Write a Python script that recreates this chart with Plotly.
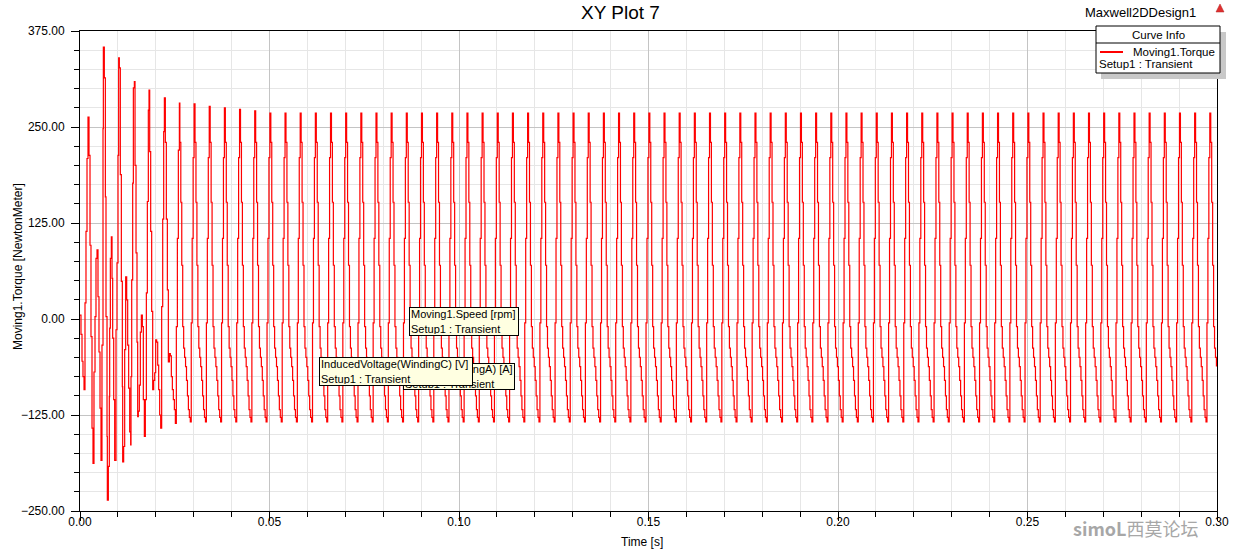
import plotly.graph_objects as go

# ---------------- data ----------------
# start-up transient (time in ms, torque in N.m)
transient_t_ms = [0.00, 0.26, 0.53, 0.79, 1.06, 1.32, 1.58, 1.85, 2.11, 2.38, 2.64, 2.90,
                  3.17, 3.43, 3.69, 3.96, 4.22, 4.49, 4.75, 5.01, 5.28, 5.54, 5.80, 6.07,
                  6.16, 6.42, 6.69, 6.86, 7.13, 7.21, 7.48, 7.74, 7.83, 8.01, 8.27, 8.45,
                  8.62, 8.89, 9.15, 9.50, 9.76, 10.03, 10.20, 10.38, 10.64, 10.91, 11.17,
                  11.26, 11.52, 11.79, 12.05, 12.32, 12.58, 12.84, 13.11, 13.37, 13.46,
                  13.64, 13.90, 14.08, 14.34, 14.52, 14.78, 15.04, 15.22, 15.39, 15.66,
                  15.92, 16.19, 16.45, 16.71, 16.98, 17.24, 17.51, 17.77, 18.03, 18.21,
                  18.39, 18.65, 18.91, 19.18, 19.44, 19.71, 19.97, 20.23, 20.50, 20.76,
                  21.02, 21.29, 21.55, 21.82, 22.08, 22.26, 22.52, 22.78, 23.05, 23.31,
                  23.58, 23.84, 24.10, 24.37, 24.63, 24.90, 25.16, 25.42, 25.69, 25.95,
                  26.22]
transient_torque = [5, -20, -55, -75, -92, 21, 114, 209, 263, 213, 96, -23,
                    -142, -188, -69, 3, 79, 90, 29, -43, -116, -184, -34, 248,
                    354, 314, 159, 3, -153, -236, -192, -101, -12, 79, 107, 53,
                    -25, -105, -184, -14, 73, 213, 340, 327, 188, 49, -88,
                    -186, -166, -40, 55, 25, -34, -90, -147, -164, -75,
                    51, 177, 301, 309, 200, 86, -30, -127, -120, -86,
                    -17, 5, -10, -105, -153, -105, 34, 153, 272, 298,
                    218, 114, 10, -92, -80, -70, -27, -30, -60, -92,
                    -125, -142, 16, 130, 244, 288, 230, 130, 38, -56,
                    -45, -48, -75, -92, -105, -118, -136, -10, 105, 220,
                    281]

# steady-state ripple cycle (one electrical period, 16 samples)
cycle_period_ms = 4.0
cycle_step_ms = 0.25
cycle_offset_ms = 0.1
steady_cycle_torque = [-80, -100, -118, -128, -134, -5, 105, 210, 268, 230,
                       152, 70, -10, -38, -50, -62]
early_peak_first_cycle = 7
early_cycle_peaks = [280, 277, 275, 273, 271]
n_cycles = 75
t_end_ms = 300.0

x_ticks = [0.00, 0.05, 0.10, 0.15, 0.20, 0.25, 0.30]
y_ticks = [-250.0, -125.0, 0.0, 125.0, 250.0, 375.0]

# ---------------- build series ----------------
time_s = [t / 1000.0 for t in transient_t_ms]
torque = list(transient_torque)
last_t = transient_t_ms[-1]
for k in range(n_cycles):
    for j, v in enumerate(steady_cycle_torque):
        t = k * cycle_period_ms + cycle_offset_ms + j * cycle_step_ms
        if t <= last_t or t > t_end_ms:
            continue
        idx = k - early_peak_first_cycle
        if j == 8 and 0 <= idx < len(early_cycle_peaks):
            v = early_cycle_peaks[idx]
        time_s.append(t / 1000.0)
        torque.append(v)

fig = go.Figure()
fig.add_trace(go.Scatter(x=time_s, y=torque, mode="lines",
                         line=dict(color="#ff0000", width=1.2, shape="hv"),
                         name="Moving1.Torque", hoverinfo="skip"))

# ---------------- layout helpers ----------------
L, R, T, B = 80, 1217, 31, 511


def px(x):
    return (x - L) / (R - L)


def py(y):
    return (B - y) / (B - T)


FONT = "Liberation Sans, Arial, sans-serif"

fig.update_layout(
    width=1241, height=551, autosize=False,
    margin=dict(l=L, r=1241 - R, t=T, b=551 - B),
    paper_bgcolor="white", plot_bgcolor="white",
    showlegend=False,
    font=dict(family=FONT, size=12, color="#000000"),
    title=dict(text="XY Plot 7", x=0.5, xref="container", xanchor="center",
               y=1 - 12 / 551, yref="container", yanchor="middle",
               font=dict(size=19, color="#000000", family=FONT)),
)

fig.update_xaxes(
    range=[0, 0.3], tickvals=x_ticks, tickformat=".2f", automargin=False,
    showline=True, linecolor="black", linewidth=1, mirror=True,
    ticks="outside", ticklen=9, tickcolor="black", ticklabelstandoff=-9,
    showgrid=True, gridcolor="#c4c4c4", gridwidth=1,
    zeroline=False,
    minor=dict(dtick=0.01, ticks="outside", ticklen=5, tickcolor="black",
               showgrid=True, gridcolor="#e6e6e6", gridwidth=1),
    tickfont=dict(size=12, color="#000000"),
)
fig.update_yaxes(
    range=[-250, 375], tickvals=y_ticks, tickformat=".2f", automargin=False,
    showline=True, linecolor="black", linewidth=1, mirror=True,
    ticks="outside", ticklen=8, tickcolor="black", ticklabelstandoff=4,
    showgrid=True, gridcolor="#c4c4c4", gridwidth=1,
    zeroline=False,
    minor=dict(dtick=25, ticks="outside", ticklen=5, tickcolor="black",
               showgrid=True, gridcolor="#e6e6e6", gridwidth=1),
    tickfont=dict(size=12, color="#000000"),
)

shapes = []
annotations = []

# axis titles
annotations.append(dict(text="Time [s]", xref="paper", yref="paper",
                        x=px(642), y=py(542), xanchor="center", yanchor="middle",
                        showarrow=False, font=dict(size=12, family=FONT)))
annotations.append(dict(text="Moving1.Torque [NewtonMeter]", xref="paper", yref="paper",
                        x=px(18), y=py(267), xanchor="center", yanchor="middle",
                        textangle=-90, showarrow=False, font=dict(size=12, family=FONT)))

# Curve Info legend box (shadow, box, separator, line sample)
shapes.append(dict(type="rect", xref="paper", yref="paper",
                   x0=px(1101), x1=px(1226), y0=py(79), y1=py(32),
                   fillcolor="#c8c8c8", line=dict(width=0), layer="above"))
shapes.append(dict(type="rect", xref="paper", yref="paper",
                   x0=px(1096), x1=px(1220), y0=py(73), y1=py(26),
                   fillcolor="white", line=dict(color="black", width=1), layer="above"))
shapes.append(dict(type="line", xref="paper", yref="paper",
                   x0=px(1096), x1=px(1220), y0=py(43), y1=py(43),
                   line=dict(color="black", width=1), layer="above"))
shapes.append(dict(type="line", xref="paper", yref="paper",
                   x0=px(1100), x1=px(1123), y0=py(52), y1=py(52),
                   line=dict(color="#ff0000", width=2), layer="above"))
# small red triangle icon at top-right corner
shapes.append(dict(type="path", xref="paper", yref="paper",
                   path=f"M {px(1216)} {py(12)} L {px(1224)} {py(12)} L {px(1220)} {py(4)} Z",
                   fillcolor="#e03030", line=dict(color="#b02020", width=0.5), layer="above"))

annotations.append(dict(text="Curve Info", xref="paper", yref="paper",
                        x=px(1158), y=py(34.5), xanchor="center", yanchor="middle",
                        showarrow=False, font=dict(size=11.5, family=FONT)))
annotations.append(dict(text="Moving1.Torque", xref="paper", yref="paper",
                        x=px(1131), y=py(52), xanchor="left", yanchor="middle",
                        showarrow=False, font=dict(size=11.5, family=FONT)))
annotations.append(dict(text="Setup1 : Transient", xref="paper", yref="paper",
                        x=px(1097), y=py(64), xanchor="left", yanchor="middle",
                        showarrow=False, font=dict(size=11.5, family=FONT)))
annotations.append(dict(text="Maxwell2DDesign1", xref="paper", yref="paper",
                        x=px(1198), y=py(12), xanchor="right", yanchor="middle",
                        showarrow=False, font=dict(size=13, family=FONT)))

# floating data-label boxes (back box first, so the front one overlaps it)
box_style = dict(xref="paper", yref="paper", showarrow=False, align="left",
                 xanchor="left", yanchor="top", valign="middle",
                 bgcolor="#ffffe1", bordercolor="black", borderwidth=1, borderpad=1,
                 font=dict(size=11, family=FONT, color="#000000"))
annotations.append(dict(text="Current(WindingA) [A]<br>Setup1 : Transient",
                        x=px(403), y=py(363), width=108, height=23, **box_style))
annotations.append(dict(text="InducedVoltage(WindingC) [V]<br>Setup1 : Transient",
                        x=px(319), y=py(357), width=150, height=25, **box_style))
annotations.append(dict(text="Moving1.Speed [rpm]<br>Setup1 : Transient",
                        x=px(409), y=py(307), width=106, height=25, **box_style))

# forum watermark
annotations.append(dict(text="<b>simoL</b>西莫论坛", xref="paper", yref="paper",
                        x=px(1200), y=py(528), xanchor="right", yanchor="middle",
                        showarrow=False, opacity=0.75,
                        font=dict(size=18, color="#8a8a8a",
                                  family="Noto Sans CJK SC, sans-serif")))

fig.update_layout(shapes=shapes, annotations=annotations)

fig.write_html("out.html", config={"displayModeBar": False},
               post_script="document.body.style.margin='0px';document.body.style.padding='0px';")
